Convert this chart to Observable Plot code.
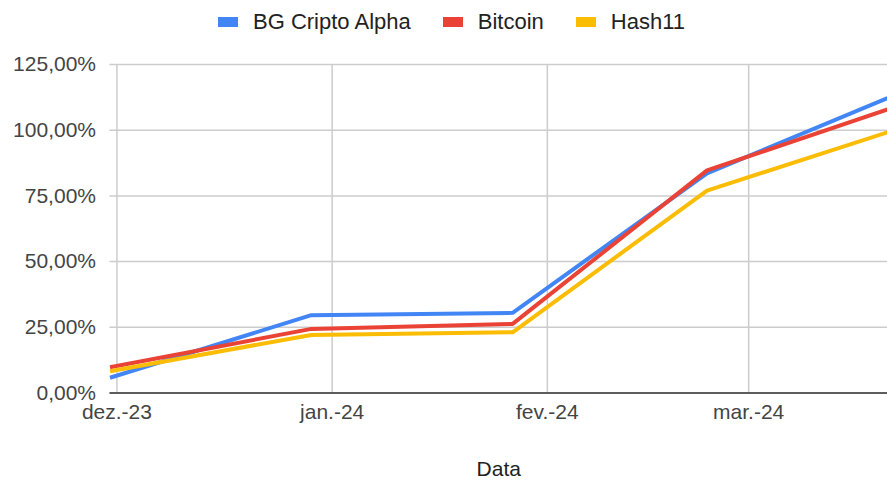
<!DOCTYPE html>
<html>
<head>
<meta charset="utf-8">
<script src="https://cdn.jsdelivr.net/npm/d3@7"></script>
<script src="https://cdn.jsdelivr.net/npm/@observablehq/plot@0.6"></script>
<style>
  html, body { margin: 0; padding: 0; background: #fff; }
  body { width: 887px; height: 480px; overflow: hidden; font-family: "Liberation Sans", Arial, sans-serif; }
  #legend { height: 44px; display: flex; align-items: center; padding-left: 218px; box-sizing: border-box; }
  .item { display: flex; align-items: center; margin-right: 32px; font-size: 22px; color: #222; }
  .sw { width: 20px; height: 10px; margin-right: 15px; }
</style>
</head>
<body>
<div id="legend"></div>
<div id="chart"></div>
<script>
const dates = ["2023-11-30", "2023-12-29", "2024-01-27", "2024-02-24", "2024-03-21"];
const seriesNames = ["BG Cripto Alpha", "Bitcoin", "Hash11"];
const seriesColors = ["#4285F4", "#EA4335", "#FBBC04"];
const bgCriptoAlpha = [5.8, 29.6, 30.5, 83.6, 112.2];
const bitcoin = [9.8, 24.4, 26.3, 84.7, 107.9];
const hash11 = [8.3, 22.1, 23.1, 77.0, 99.2];
const yTicks = [0, 25, 50, 75, 100, 125];
const monthTicks = ["2023-12-01", "2023-12-31", "2024-02-01", "2024-03-01"];
const monthTickDates = ["2023-12-01", "2024-01-01", "2024-02-01", "2024-03-01"];
const monthLabels = ["dez.-23", "jan.-24", "fev.-24", "mar.-24"];
const xTitle = "Data";

const parse = d3.utcParse("%Y-%m-%d");
const seriesValues = [bgCriptoAlpha, bitcoin, hash11];
const data = [];
seriesNames.forEach((s, i) => {
  dates.forEach((d, j) => data.push({series: s, date: parse(d), value: seriesValues[i][j]}));
});
const tickDates = monthTickDates.map(parse);
const labelOf = new Map(tickDates.map((d, i) => [+d, monthLabels[i]]));

// legend
const legend = document.getElementById("legend");
seriesNames.forEach((s, i) => {
  const it = document.createElement("div");
  it.className = "item";
  const sw = document.createElement("span");
  sw.className = "sw";
  sw.style.background = seriesColors[i];
  it.appendChild(sw);
  it.appendChild(document.createTextNode(s));
  legend.appendChild(it);
});

const fmt = v => v.toFixed(2).replace(".", ",") + "%";

const chart = Plot.plot({
  width: 887,
  height: 436,
  marginLeft: 109.5,
  marginRight: 0,
  marginTop: 20,
  marginBottom: 87.5,
  style: {fontFamily: "'Liberation Sans', Arial, sans-serif", background: "#fff"},
  x: {type: "utc", domain: [parse(dates[0]), parse(dates[dates.length - 1])]},
  y: {domain: [0, 125]},
  color: {domain: seriesNames, range: seriesColors},
  marks: [
    Plot.gridY(yTicks, {stroke: "#cccccc", strokeOpacity: 1, strokeWidth: 1.5}),
    Plot.gridX(tickDates, {stroke: "#cccccc", strokeOpacity: 1, strokeWidth: 1.5}),
    Plot.ruleY([0], {stroke: "#333333", strokeWidth: 1.5}),
    Plot.axisY(yTicks, {tickSize: 0, tickPadding: 14, fontSize: 21, fill: "#444", tickFormat: fmt, label: null}),
    Plot.axisX(tickDates, {tickSize: 0, tickPadding: 11, fontSize: 21, fill: "#444", tickFormat: d => labelOf.get(+d), label: null}),
    Plot.line(data, {x: "date", y: "value", z: "series", stroke: "series", strokeWidth: 4, strokeLinejoin: "round", strokeLinecap: "butt"}),
    Plot.text([xTitle], {frameAnchor: "bottom", dy: 76.5, lineAnchor: "middle", text: d => d, fontSize: 21, fill: "#222"})
  ]
});
document.getElementById("chart").appendChild(chart);
</script>
</body>
</html>
